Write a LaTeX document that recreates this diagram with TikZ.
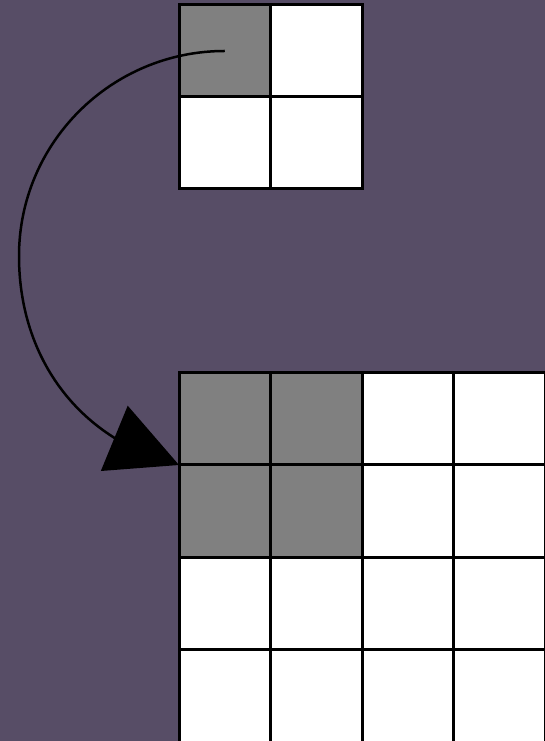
\documentclass[tikz,border=0pt]{standalone}
\usetikzlibrary{arrows.meta,bending}
\definecolor{bgpurple}{RGB}{87,77,102}
\definecolor{cellgray}{RGB}{128,128,128}
\tikzset{
  cell/.style={draw=black,line width=3pt,fill=white,minimum width=91.5pt,minimum height=92pt,inner sep=0pt,outer sep=0pt},
  bigcell/.style={cell,minimum height=92.5pt},
  shaded/.style={fill=cellgray},
  connector/.style={draw=black,line width=2.5pt,-{Triangle[length=70pt,width=70pt,flex]}}
}
\begin{document}
\begin{tikzpicture}[x=1pt,y=1pt]
\useasboundingbox (0,0) rectangle (545,741);
\fill[bgpurple] (0,0) rectangle (545,741);
% top 2x2 grid
\node[cell,shaded] (t11) at (224.75,690) {};
\node[cell]   (t12) at (316.25,690) {};
\node[cell]   (t21) at (224.75,598) {};
\node[cell]   (t22) at (316.25,598) {};
% bottom 4x4 grid
\foreach \r/\y in {1/322.25,2/229.75,3/137.25,4/44.75}{
  \foreach \c/\x in {1/224.75,2/316.25,3/407.75,4/499.25}{
    \node[bigcell] (b\r\c) at (\x,\y) {};
  }
}
\node[bigcell,shaded] at (b11) {};
\node[bigcell,shaded] at (b12) {};
\node[bigcell,shaded] at (b21) {};
\node[bigcell,shaded] at (b22) {};
\coordinate (left) at (19,485);
\draw[connector] (t11.center) to[out=180,in=90] (left) to[out=-90,in=166] (b21.north west);
\end{tikzpicture}
\end{document}
